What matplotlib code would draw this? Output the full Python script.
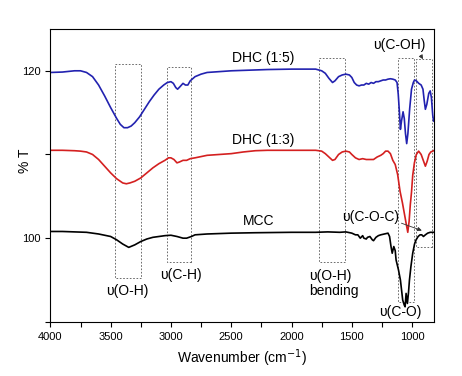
import matplotlib
matplotlib.use('Agg')
import matplotlib.pyplot as plt
from matplotlib.patches import Rectangle
from matplotlib.ticker import MultipleLocator

plt.rcParams['font.family'] = ['Liberation Sans', 'DejaVu Sans']

# DHC (1:5) spectrum
wn_dhc15 = [4000, 3900, 3800, 3750, 3700, 3650, 3600, 3550, 3500, 3450, 3420, 3390, 3360, 3330,
            3300, 3260, 3220, 3180, 3140, 3100, 3060, 3030, 3000, 2980, 2960, 2945, 2925, 2900,
            2880, 2860, 2840, 2800, 2750, 2700, 2600, 2500, 2400, 2300, 2200, 2000, 1900, 1800,
            1750, 1720, 1690, 1660, 1640, 1610, 1580, 1550, 1520, 1500, 1480, 1460, 1440, 1420,
            1400, 1380, 1360, 1340, 1320, 1300, 1280, 1260, 1240, 1220, 1200, 1180, 1160, 1140,
            1125, 1115, 1105, 1097, 1088, 1075, 1065, 1055, 1045, 1035, 1020, 1005, 990, 980,
            965, 945, 925, 910, 900, 890, 878, 862, 850, 840, 829, 822]
t_dhc15 = [119.8, 119.85, 120.0, 120.0, 119.8, 119.3, 118.3, 117.0, 115.6, 114.3, 113.6, 113.2, 113.2, 113.4,
           113.8, 114.5, 115.4, 116.3, 117.1, 117.8, 118.3, 118.6, 118.7, 118.5, 118.0, 117.8, 118.1, 118.5,
           118.3, 118.3, 118.8, 119.3, 119.6, 119.8, 119.9, 120.0, 120.05, 120.1, 120.15, 120.2, 120.2, 120.2,
           120.0, 119.7, 119.1, 118.6, 118.8, 119.3, 119.5, 119.6, 119.5, 119.2, 118.6, 118.3, 118.2, 118.3,
           118.3, 118.5, 118.4, 118.6, 118.5, 118.7, 118.7, 118.8, 118.9, 118.9, 119.0, 119.05, 119.0, 118.9,
           118.6, 117.2, 115.0, 113.0, 114.0, 115.1, 114.3, 112.5, 111.3, 112.5, 115.5, 117.8, 118.6, 118.9,
           118.8, 118.5, 118.3, 117.8, 116.5, 115.4, 116.0, 117.3, 117.6, 116.8, 114.7, 114.0]

# DHC (1:3) spectrum
wn_dhc13 = [4000, 3900, 3800, 3750, 3700, 3650, 3600, 3550, 3500, 3450, 3400, 3370, 3340, 3300,
            3250, 3200, 3150, 3100, 3050, 3020, 3000, 2975, 2950, 2930, 2900, 2870, 2840, 2800,
            2700, 2600, 2500, 2400, 2300, 2200, 2000, 1900, 1800, 1750, 1720, 1690, 1660, 1640,
            1610, 1580, 1550, 1520, 1500, 1470, 1440, 1410, 1380, 1350, 1320, 1290, 1260, 1240,
            1220, 1200, 1180, 1160, 1140, 1120, 1100, 1080, 1065, 1050, 1036, 1025, 1015, 1005,
            995, 981, 965, 946, 925, 905, 890, 875, 860, 845, 829, 822]
t_dhc13 = [110.5, 110.5, 110.45, 110.4, 110.3, 110.0, 109.4, 108.6, 107.8, 107.1, 106.6, 106.5, 106.6, 106.8,
           107.2, 107.8, 108.4, 108.9, 109.3, 109.6, 109.6, 109.4, 109.0, 109.1, 109.3, 109.3, 109.5, 109.6,
           109.9, 110.0, 110.1, 110.3, 110.45, 110.5, 110.5, 110.5, 110.5, 110.4, 110.1, 109.7, 109.3, 109.4,
           110.0, 110.3, 110.4, 110.3, 110.0, 109.6, 109.4, 109.5, 109.4, 109.4, 109.4, 109.7, 109.9, 110.1,
           110.4, 110.4, 110.1, 109.3, 108.8, 107.6, 105.6, 104.2, 103.0, 101.8, 100.7, 102.0, 104.0, 105.5,
           107.5, 109.0, 110.0, 110.4, 110.0, 109.2, 108.6, 109.2, 110.0, 110.3, 110.4, 110.45]

# MCC spectrum
wn_mcc = [4000, 3900, 3800, 3700, 3600, 3500, 3450, 3400, 3350, 3300, 3250, 3200, 3150, 3100,
          3050, 3000, 2950, 2900, 2870, 2830, 2800, 2700, 2500, 2300, 2000, 1800, 1700, 1600,
          1550, 1500, 1470, 1450, 1430, 1410, 1400, 1380, 1370, 1350, 1330, 1320, 1300, 1280,
          1260, 1230, 1200, 1187, 1175, 1165, 1152, 1140, 1133, 1113, 1097, 1078, 1065, 1058,
          1050, 1039, 1030, 1022, 1010, 995, 980, 967, 950, 934, 920, 906, 890, 871, 850, 829, 822]
t_mcc = [100.8, 100.8, 100.75, 100.7, 100.5, 100.2, 99.8, 99.3, 98.9, 99.2, 99.6, 99.9, 100.1, 100.2,
         100.3, 100.35, 100.2, 100.0, 100.0, 100.2, 100.4, 100.5, 100.6, 100.65, 100.7, 100.7, 100.75, 100.7,
         100.75, 100.6, 100.4, 100.4, 100.0, 100.3, 100.0, 99.9, 100.1, 100.2, 99.8, 99.7, 100.1, 100.3,
         100.4, 100.5, 100.6, 100.2, 99.0, 98.2, 99.0, 98.5, 97.4, 96.2, 95.0, 92.6, 92.0, 91.8,
         93.4, 92.2, 93.5, 95.0, 96.6, 98.2, 99.3, 99.8, 100.2, 100.4, 100.4, 100.2, 100.4, 100.6, 100.7, 100.7, 100.7]

# band regions: (wn_high, wn_low, t_low, t_high)
band_boxes = [(3462, 3247, 95.3, 120.8),
              (3034, 2830, 97.2, 120.5),
              (1770, 1558, 97.2, 121.5),
              (1116, 986, 92.4, 121.5),
              (967, 832, 98.9, 121.4)]

fig = plt.figure(figsize=(4.62, 3.76), dpi=100)
ax = fig.add_axes([0.109, 0.144, 0.830, 0.779])

ax.plot(wn_dhc15, t_dhc15, color='#2222b0', lw=1.2)
ax.plot(wn_dhc13, t_dhc13, color='#d42020', lw=1.2)
ax.plot(wn_mcc, t_mcc, color='black', lw=1.2)

for x1, x2, y1, y2 in band_boxes:
    ax.add_patch(Rectangle((x2, y1), x1 - x2, y2 - y1, fill=False,
                           ls=(0, (2, 2)), lw=0.6, ec='#555555'))

fs = 10
ax.text(2231, 121.5, 'DHC (1:5)', ha='center', va='center', fontsize=fs)
ax.text(2237, 111.7, 'DHC (1:3)', ha='center', va='center', fontsize=fs)
ax.text(2273, 102.1, 'MCC', ha='center', va='center', fontsize=fs)
ax.text(3362, 93.7, 'υ(O-H)', ha='center', va='center', fontsize=fs)
ax.text(2913, 95.6, 'υ(C-H)', ha='center', va='center', fontsize=fs)
ax.text(1850, 94.6, 'υ(O-H)\nbending', ha='left', va='center', fontsize=fs, linespacing=1.1)
ax.text(1097, 91.2, 'υ(C-O)', ha='center', va='center', fontsize=fs)
ax.text(1340, 102.5, 'υ(C-O-C)', ha='center', va='center', fontsize=fs)
ax.text(1105, 123.1, 'υ(C-OH)', ha='center', va='center', fontsize=fs)

arrow = dict(arrowstyle='-|>', color='#333333', lw=0.6, mutation_scale=6)
ax.annotate('', xy=(898, 100.8), xytext=(1110, 101.9), arrowprops=arrow)
ax.annotate('', xy=(898, 121.1), xytext=(940, 122.1), arrowprops=arrow)

ax.set_xlim(4000, 820)
ax.set_ylim(90, 125)
ax.xaxis.set_major_locator(MultipleLocator(500))
ax.xaxis.set_minor_locator(MultipleLocator(250))
ax.yaxis.set_major_locator(MultipleLocator(20))
ax.yaxis.set_minor_locator(MultipleLocator(10))
ax.tick_params(which='both', direction='out', labelsize=8, width=0.8, length=3.5)
for sp in ax.spines.values():
    sp.set_linewidth(0.8)

ax.set_xlabel('Wavenumber (cm$^{-1}$)', fontsize=10, labelpad=4)
ax.set_ylabel('% T', fontsize=10)
ax.yaxis.set_label_coords(-0.048, 0.55)

fig.savefig('out.png', dpi=100)
